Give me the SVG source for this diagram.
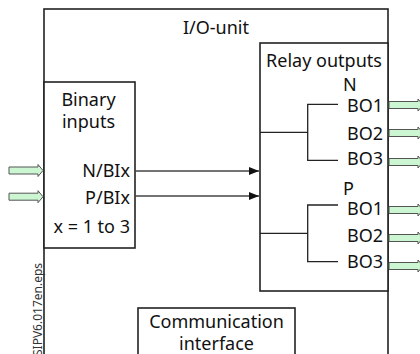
<svg xmlns="http://www.w3.org/2000/svg" width="420" height="354" viewBox="0 0 420 354">
<defs>
<style>
.box{fill:#fff;stroke:#222;stroke-width:1.6}
.t{font-family:"Noto Sans","Open Sans",sans-serif;font-size:18px;fill:#111}
.con{stroke:#444;stroke-width:1.3;fill:none}
.br{stroke:#222;stroke-width:1.3;fill:none}
.garrow{fill:#ccf5d2;stroke:#555;stroke-width:1}
.eps{font-family:"Noto Sans","Open Sans",sans-serif;font-size:12px;fill:#333}
</style>
<marker id="ah" viewBox="0 0 10 8" refX="10" refY="4" markerWidth="10" markerHeight="8" markerUnits="userSpaceOnUse" orient="auto">
<path d="M0,0 L10,4 L0,8 Z" fill="#111"/>
</marker>
<path id="ga" d="M0,-3.5 H29 V-6 L34,0 L29,6 V3.5 H0 Z"/>
</defs>
<g id="io-unit">
<rect class="box" x="44" y="9" width="344" height="360"/>
<text class="t" x="216" y="34" text-anchor="middle">I/O-unit</text>
</g>
<g id="binary-inputs">
<rect class="box" x="44" y="82" width="91" height="166"/>
<text class="t" x="88.5" y="106" text-anchor="middle">Binary</text>
<text class="t" x="88.5" y="128" text-anchor="middle">inputs</text>
<text class="t" x="130" y="177" text-anchor="end">N/BIx</text>
<text class="t" x="130" y="204" text-anchor="end">P/BIx</text>
<text class="t" x="130" y="233" text-anchor="end">x = 1 to 3</text>
</g>
<g id="relay-outputs">
<rect class="box" x="260" y="43" width="128" height="248"/>
<text class="t" x="324" y="67" text-anchor="middle">Relay outputs</text>
<text class="t" x="343" y="91">N</text>
<text class="t" x="347" y="112">BO1</text>
<text class="t" x="347" y="140">BO2</text>
<text class="t" x="347" y="165">BO3</text>
<text class="t" x="343" y="195">P</text>
<text class="t" x="347" y="215">BO1</text>
<text class="t" x="347" y="242">BO2</text>
<text class="t" x="347" y="268">BO3</text>
</g>
<g id="communication-interface">
<rect class="box" x="138" y="308" width="157" height="60"/>
<text class="t" x="216.5" y="328" text-anchor="middle">Communication</text>
<text class="t" x="216.5" y="350" text-anchor="middle">interface</text>
</g>
<g id="connectors">
<line class="con" x1="135" y1="171" x2="259" y2="171" marker-end="url(#ah)"/>
<line class="con" x1="135" y1="196" x2="259" y2="196" marker-end="url(#ah)"/>
<path class="br" d="M260,132.3 H307.7 M338,104.3 H307.7 V160.3 H338"/>
<path class="br" d="M260,233.3 H307.7 M338,205 H307.7 V261.7 H338"/>
<use href="#ga" class="garrow" x="9" y="170.5"/>
<use href="#ga" class="garrow" x="9" y="196.7"/>
<use href="#ga" class="garrow" x="389" y="105"/>
<use href="#ga" class="garrow" x="389" y="133"/>
<use href="#ga" class="garrow" x="389" y="162"/>
<use href="#ga" class="garrow" x="389" y="210"/>
<use href="#ga" class="garrow" x="389" y="238"/>
<use href="#ga" class="garrow" x="389" y="266"/>
</g>
<text class="eps" transform="translate(41.5,356) rotate(-90)">SIPV6.017en.eps</text>
</svg>
